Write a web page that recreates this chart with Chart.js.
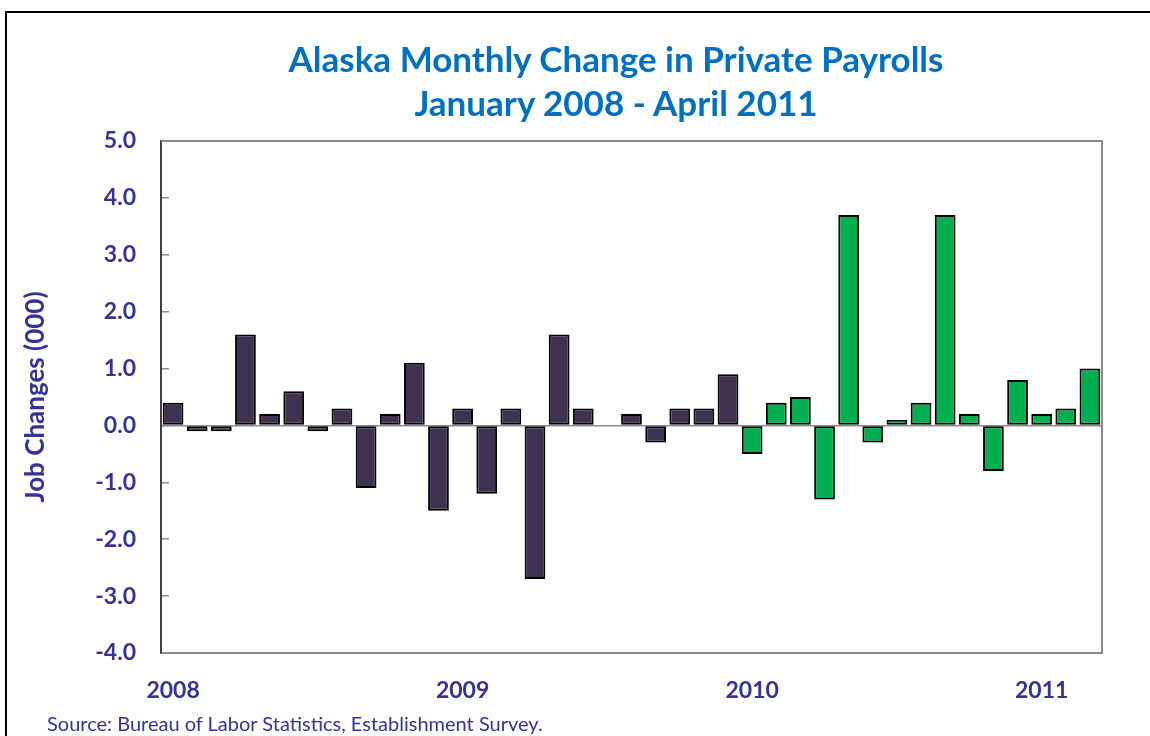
<!DOCTYPE html>
<html>
<head>
<meta charset="utf-8">
<script src="https://cdn.jsdelivr.net/npm/chart.js@4"></script>
<style>
  html, body { margin: 0; padding: 0; background: #fff; }
  #wrap { position: relative; width: 1150px; height: 736px; overflow: hidden; }
  #frame { position: absolute; left: 5px; top: 11px; width: 1200px; height: 800px;
           border-top: 2px solid #000; border-left: 2px solid #000; }
  #title { position: absolute; left: 0; top: 36px; width: 1232px; text-align: center;
           font: bold 35px/44px Lato, sans-serif; color: #0070c0; }
  #source { position: absolute; left: 47px; top: 711px; font: 20px Lato, sans-serif; color: #333399; }
  canvas { position: absolute; left: 0; top: 0; }
</style>
</head>
<body>
<div id="wrap">
  <div id="frame"></div>
  <canvas id="payrolls-chart" width="1150" height="736"></canvas>
  <div id="title">Alaska Monthly Change in Private Payrolls<br>January 2008 - April 2011</div>
  <div id="source">Source: Bureau of Labor Statistics, Establishment Survey.</div>
</div>
<script>
// Monthly categories, Jan 2008 onward
const months = [
  "Jan 2008", "Feb 2008", "Mar 2008", "Apr 2008", "May 2008", "Jun 2008",
  "Jul 2008", "Aug 2008", "Sep 2008", "Oct 2008", "Nov 2008", "Dec 2008",
  "Jan 2009", "Feb 2009", "Mar 2009", "Apr 2009", "May 2009", "Jun 2009",
  "Jul 2009", "Aug 2009", "Sep 2009", "Oct 2009", "Nov 2009", "Dec 2009",
  "Jan 2010", "Feb 2010", "Mar 2010", "Apr 2010", "May 2010", "Jun 2010",
  "Jul 2010", "Aug 2010", "Sep 2010", "Oct 2010", "Nov 2010", "Dec 2010",
  "Jan 2011", "Feb 2011", "Mar 2011"
];

// Job changes (000)
const jobChanges = [
  0.4, -0.1, -0.1, 1.6, 0.2, 0.6, -0.1, 0.3, -1.1, 0.2, 1.1, -1.5,
  0.3, -1.2, 0.3, -2.7, 1.6, 0.3, 0.0, 0.2, -0.3, 0.3, 0.3, 0.9,
  -0.5, 0.4, 0.5, -1.3, 3.7, -0.3, 0.1, 0.4, 3.7, 0.2, -0.8, 0.8,
  0.2, 0.3, 1.0
];

// Year shown under the first month of each year
const yearTicks = ["2008", "", "", "", "", "", "", "", "", "", "", "",
  "2009", "", "", "", "", "", "", "", "", "", "", "",
  "2010", "", "", "", "", "", "", "", "", "", "", "",
  "2011", "", ""];

const yTicks = [-4, -3, -2, -1, 0, 1, 2, 3, 4, 5];

const labelBlue = "#333399";

// Draw the top and right edges of the plot box
const plotBox = {
  id: "plotBox",
  beforeDatasetsDraw(chart) {
    const a = chart.chartArea;
    const c = chart.ctx;
    c.save();
    c.strokeStyle = "#8c8c8c";
    c.lineWidth = 2;
    c.beginPath();
    c.moveTo(a.left, a.top);
    c.lineTo(a.right, a.top);
    c.lineTo(a.right, a.bottom);
    c.stroke();
    c.restore();
  }
};

const ctx = document.getElementById("payrolls-chart");

new Chart(ctx, {
  type: "bar",
  data: {
    labels: months,
    datasets: [{
      data: jobChanges,
      backgroundColor: jobChanges.map((v, i) => i < 24 ? "#3f3151" : "#00b050"),
      borderColor: "#000",
      borderWidth: 2,
      borderSkipped: false,
      categoryPercentage: 0.86,
      barPercentage: 1.0
    }]
  },
  options: {
    responsive: false,
    animation: false,
    layout: { padding: { left: 0, right: 48, top: 141, bottom: 0 } },
    plugins: {
      legend: { display: false },
      tooltip: { enabled: false },
      title: { display: false }
    },
    scales: {
      x: {
        grid: { display: false },
        border: { color: "#8c8c8c", width: 2 },
        ticks: {
          autoSkip: false,
          maxRotation: 0,
          padding: 16,
          color: labelBlue,
          font: { family: "Lato", size: 23, weight: "bold" },
          callback: (v, i) => yearTicks[i]
        },
        afterFit: (scale) => { scale.height = 83; }
      },
      y: {
        min: -4,
        max: 5,
        afterBuildTicks: (scale) => { scale.ticks = yTicks.map(v => ({ value: v })); },
        grid: {
          drawOnChartArea: true,
          color: (c) => c.tick && c.tick.value === 0 ? "#8c8c8c" : "rgba(0,0,0,0)",
          tickColor: "#8c8c8c",
          tickLength: -8,
          lineWidth: 1.5
        },
        border: { color: "#404040", width: 2 },
        ticks: {
          padding: 33,
          color: labelBlue,
          font: { family: "Lato", size: 23, weight: "bold" },
          callback: (v) => Number(v).toFixed(1)
        },
        title: {
          display: true,
          text: "Job Changes (000)",
          color: labelBlue,
          font: { family: "Lato", size: 26, weight: "bold" },
          padding: { top: 20, bottom: 0 }
        },
        afterFit: (scale) => { scale.width = 161; }
      }
    }
  },
  plugins: [plotBox]
});
</script>
</body>
</html>
